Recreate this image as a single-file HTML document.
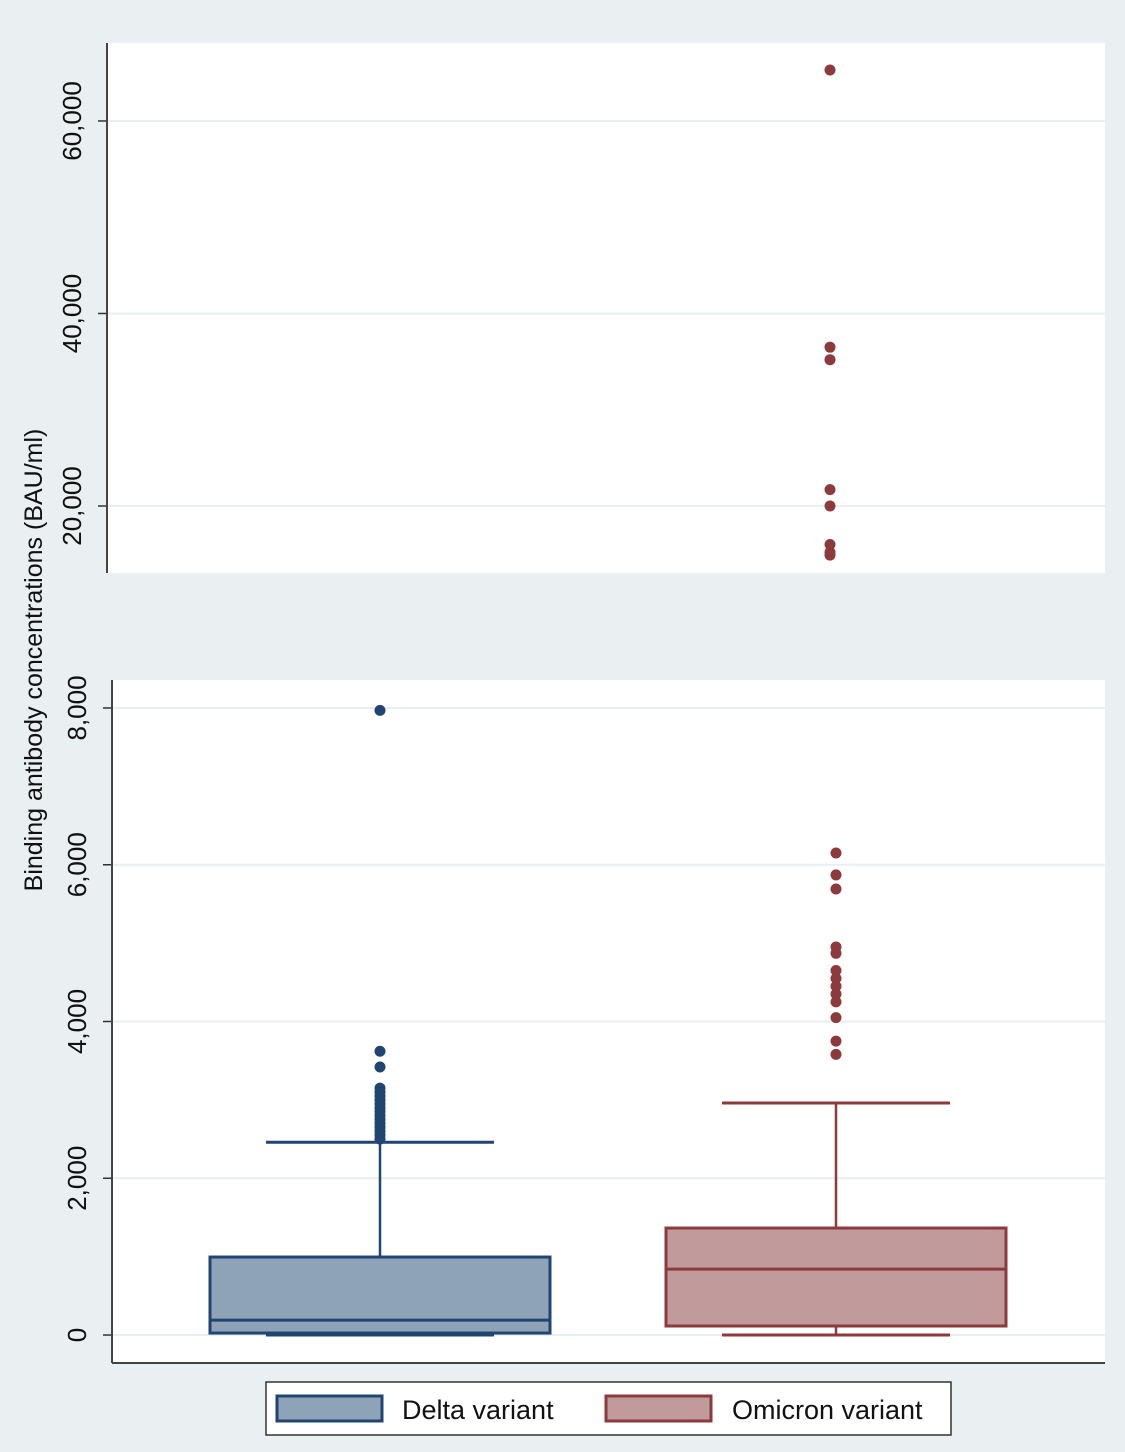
<!DOCTYPE html>
<html><head><meta charset="utf-8"><style>
body{margin:0;background:#eaeff2;}
svg{display:block;font-family:"Liberation Sans",sans-serif;}
</style></head><body>
<svg id="c" width="1125" height="1452"></svg>
<script>
const categories=["Delta variant","Omicron variant"];
const q1=[25,115];
const medians=[190,840];
const q3=[995,1365];
const whiskLow=[0,0];
const whiskHigh=[2460,2960];
const outliersDelta=[7970,3620,3420,3150,3100,3050,3000,2950,2900,2850,2800,2750,2700,2650,2600,2550,2500];
const outliersOmicron=[65300,36500,35200,21700,20000,16000,15200,14900,6150,5870,5690,4950,4870,4650,4550,4450,4350,4250,4050,3750,3580];
const topTicks=[20000,40000,60000];
const botTicks=[0,2000,4000,6000,8000];
const NS="http://www.w3.org/2000/svg";
const svgEl=document.getElementById('c');
function mk(tag,attrs,parent){const e=document.createElementNS(NS,tag);for(const k in attrs)e.setAttribute(k,attrs[k]);(parent||svgEl).appendChild(e);return e;}
const fills=["#8fa3b8","#c19a9c"],strokes=["#1f4570","#8c3a3c"];
const xCenter=i=>380+i*456;
const topPanel={x0:107,x1:1105,y0:43,y1:573,vmin:13040,vmax:68100};
const botPanel={x0:112,x1:1105,y0:680,y1:1363,vmin:-357,vmax:8357};
const yT=v=>topPanel.y1-(v-topPanel.vmin)/(topPanel.vmax-topPanel.vmin)*(topPanel.y1-topPanel.y0);
const yB=v=>botPanel.y1-(v-botPanel.vmin)/(botPanel.vmax-botPanel.vmin)*(botPanel.y1-botPanel.y0);
function panel(p,ticks,yf,name){
  const g=mk('g',{});
  
  
  mk('rect',{x:p.x0,y:p.y0,width:p.x1-p.x0,height:p.y1-p.y0,fill:"#fff"},g);
  ticks.forEach(t=>{const y=yf(t);
    const gl=mk('line',{x1:p.x0,x2:p.x1,y1:y,y2:y,stroke:"#e8eef2","stroke-width":2},g);
    
    
    mk('line',{x1:p.x0-9,x2:p.x0,y1:y,y2:y,stroke:"#333","stroke-width":1.5},g);
    const tx=mk('text',{x:0,y:0,transform:`translate(${p.x0-26},${y}) rotate(-90)`,"text-anchor":"middle","font-size":26,fill:"#111"},g);
    tx.textContent=t.toLocaleString('en-US');
    
    
  });
  mk('line',{x1:p.x0,x2:p.x0,y1:p.y0,y2:p.y1,stroke:"#444","stroke-width":2},g);
  return g;
}
const gTop=panel(topPanel,topTicks,yT,'upper-panel');
const gBot=panel(botPanel,botTicks,yB,'lower-panel');
mk('line',{x1:botPanel.x0,x2:botPanel.x1,y1:botPanel.y1,y2:botPanel.y1,stroke:"#444","stroke-width":2},gBot);
categories.forEach((c,i)=>{
  const cx=xCenter(i),hw=170,cw=114;
  const g=mk('g',{},gBot);
  
  
  const s=strokes[i];
  mk('line',{x1:cx,x2:cx,y1:yB(q3[i]),y2:yB(whiskHigh[i]),stroke:s,"stroke-width":2.5},g);
  mk('line',{x1:cx,x2:cx,y1:yB(q1[i]),y2:yB(whiskLow[i]),stroke:s,"stroke-width":2.5},g);
  mk('line',{x1:cx-cw,x2:cx+cw,y1:yB(whiskHigh[i]),y2:yB(whiskHigh[i]),stroke:s,"stroke-width":3},g);
  mk('line',{x1:cx-cw,x2:cx+cw,y1:yB(whiskLow[i]),y2:yB(whiskLow[i]),stroke:s,"stroke-width":3},g);
  mk('rect',{x:cx-hw,y:yB(q3[i]),width:2*hw,height:yB(q1[i])-yB(q3[i]),fill:fills[i],stroke:s,"stroke-width":3},g);
  mk('line',{x1:cx-hw,x2:cx+hw,y1:yB(medians[i]),y2:yB(medians[i]),stroke:s,"stroke-width":3},g);
});
function dots(arr,i){
  arr.forEach(v=>{
    let cy,parent;
    if(v>botPanel.vmax){cy=yT(v);parent=gTop;}else{cy=yB(v);parent=gBot;}
    const d=mk('circle',{cx:xCenter(i)+(v>botPanel.vmax?-6:0),cy:cy,r:5.5,fill:strokes[i]},parent);
    
    
  });
}
dots(outliersDelta,0);dots(outliersOmicron,1);
const yt=mk('text',{x:0,y:0,transform:"translate(42,660) rotate(-90)","text-anchor":"middle","font-size":25,fill:"#111"});
yt.textContent="Binding antibody concentrations (BAU/ml)";


const lg=mk('g',{});


mk('rect',{x:266,y:1382,width:685,height:53,fill:"#fff",stroke:"#333","stroke-width":1.5},lg);
const lx=[277,606],tx=[402,732];
categories.forEach((c,i)=>{
  const e=mk('g',{},lg);
  
  
  mk('rect',{x:lx[i],y:1396,width:105,height:25,fill:fills[i],stroke:strokes[i],"stroke-width":3},e);
  const t=mk('text',{x:tx[i],y:1419,"font-size":27,fill:"#111"},e);t.textContent=c;
});
</script>
</body></html>
